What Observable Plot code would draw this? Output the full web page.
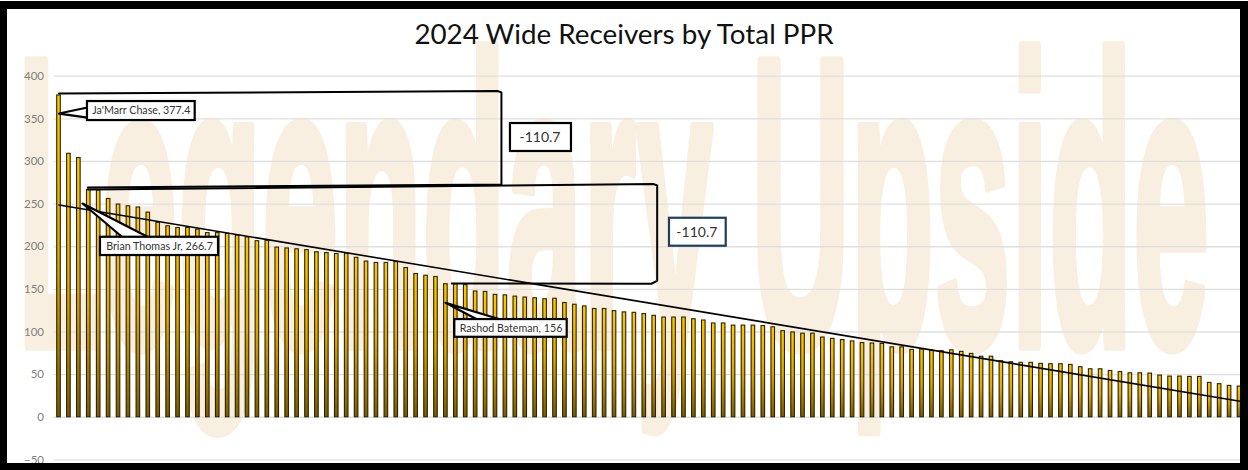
<!DOCTYPE html>
<html>
<head>
<meta charset="utf-8">
<script src="https://cdn.jsdelivr.net/npm/d3@7"></script>
<script src="https://cdn.jsdelivr.net/npm/@observablehq/plot@0.6"></script>
<style>
html,body{margin:0;padding:0;background:#fff;width:1248px;height:470px;overflow:hidden}
#wrap{position:relative;width:1248px;height:470px;overflow:hidden}
#title{position:absolute;left:0;right:0;top:17px;text-align:center;font:27.8px Lato,"Open Sans",sans-serif;color:#111;z-index:2}
#border{position:absolute;left:0;top:1px;width:1248px;height:469px;box-sizing:border-box;border-style:solid;border-color:#000;border-width:8px 8.5px 7px 7px;z-index:3;pointer-events:none}
svg{display:block}
</style>
</head>
<body>
<div id="wrap"><div id="title">2024 Wide Receivers by Total PPR</div><div id="border"></div></div>
<script>
const chartTitle = "2024 Wide Receivers by Total PPR";
const watermark = "Legendary Upside";
const yTicks = [-50, 0, 50, 100, 150, 200, 250, 300, 350, 400];
const ppr = [377.4,309,304,266.7,266,256,249.5,247.5,246,240,228,224,222,222,220,216,216,215,213,211,206.5,207,199,198,197,196,193.5,192.5,191.5,192,187,182.6,181,181,182,175,168,166,164.5,156,156,155,147.5,147,143.5,143,141.5,140.4,139.6,138.4,139,134,132,130,127,127,124.5,123,122.5,121,119,117,117,117,115,113.5,110,110,107.5,107.5,107.5,107,105.5,101,99.5,98,98,93.5,92,90.5,89,87,86.5,86,82,82,79,79.5,78,77.5,78.5,76.7,74.3,71,71,65.7,64.5,63.8,63.8,62.6,62.2,62.2,61.4,58.7,56.3,56.3,54.3,53,51.6,51.6,51.2,48.9,47.7,47.7,47.3,47.3,40.3,38.8,36.8,36];
const ranks = ppr.map((_, i) => i + 1);
const trendRank = [1, 120.2];
const trendPpr = [249, 18.4];
const bracket1 = [[1,379.7],[45.2,382.6],[45.6,381],[45.6,273],[3.9,269.4]];
const bracket2 = [[3.92,267],[60.9,273.5],[61.3,272],[61.3,160],[60.7,156.6],[40.6,156.8]];
const callouts = [
  {label:"Ja'Marr Chase, 377.4", x1:3.87, x2:14.73, y1:348, y2:370.3, wedge:[[3.87,363.3],[1,356.2],[3.87,351.5]]},
  {label:"Brian Thomas Jr, 266.7", x1:5.18, x2:17.08, y1:189.7, y2:211.1, wedge:[[7.4,211.1],[3.37,250.7],[10.02,211.1]]},
  {label:"Rashod Bateman, 156", x1:40.9, x2:52.23, y1:93.8, y2:114.6, wedge:[[43.16,114.6],[39.96,134.2],[45.5,114.6]]}
];
const gapBoxes = [
  {label:"-110.7", x1:46.51, x2:52.66, y1:311.7, y2:344.5, stroke:"#000000"},
  {label:"-110.7", x1:62.54, x2:68.26, y1:200.6, y2:233.4, stroke:"#1f3f5f"}
];

const gradient = () => {
  const ns = "http://www.w3.org/2000/svg";
  const defs = document.createElementNS(ns, "defs");
  defs.innerHTML = '<linearGradient id="gold" x1="0" y1="0" x2="0" y2="1"><stop offset="0" stop-color="#ffc800"/><stop offset="0.5" stop-color="#e0a800"/><stop offset="1" stop-color="#7a5c00"/></linearGradient>';
  return defs;
};

const plot = Plot.plot({
  width: 1248, height: 470,
  marginLeft: 53.54, marginRight: 4.06, marginTop: 75.7, marginBottom: 10.6,
  x: {domain: [0.5, 120.5], axis: null},
  y: {domain: [-50, 400], axis: null},
  style: {background: "transparent", overflow: "visible"},
  marks: [
    gradient,
    Plot.text([watermark], {x: [-3.2], y: [84.5], text: d => d, className: "wm", textAnchor: "start", lineAnchor: "bottom", fontSize: 412, fontWeight: 700, fontFamily: "Liberation Sans", fill: "#f9efe0", stroke: "#f9efe0", strokeWidth: 11}),
    Plot.gridY(yTicks, {stroke: "#e0e0e0", strokeOpacity: 1, strokeWidth: 1.3}),
    Plot.axisY({ticks: yTicks, tickSize: 0, tickPadding: 10, label: null, fontSize: 11.5, fontFamily: "Lato", color: "#7f7f7f"}),
    Plot.rectY(ranks, {x1: d => d - 0.18, x2: d => d + 0.18, y1: 0, y2: d => ppr[d - 1], fill: "url(#gold)", stroke: "#2a2200", strokeWidth: 1.1}),
    Plot.line(trendRank.map((r, i) => [r, trendPpr[i]]), {x: "0", y: "1", stroke: "#000", strokeWidth: 1.6}),
    Plot.line(bracket1, {x: "0", y: "1", stroke: "#000", strokeWidth: 2, strokeLinejoin: "round"}),
    Plot.line(bracket2, {x: "0", y: "1", stroke: "#000", strokeWidth: 2, strokeLinejoin: "round"}),
    ...callouts.flatMap(c => [
      Plot.line(c.wedge, {x: "0", y: "1", stroke: "#000", strokeWidth: 2.2, fill: "#fff"}),
      Plot.rect([c], {x1: "x1", x2: "x2", y1: "y1", y2: "y2", fill: "#fff", stroke: "#000", strokeWidth: 2.2}),
      Plot.text([c], {x: d => (d.x1 + d.x2) / 2, y: d => (d.y1 + d.y2) / 2, text: "label", fontSize: 10.7, fontFamily: "Lato", fill: "#333"})
    ]),
    ...gapBoxes.flatMap(b => [
      Plot.rect([b], {x1: "x1", x2: "x2", y1: "y1", y2: "y2", fill: "#fff", stroke: "stroke", strokeWidth: 2.2}),
      Plot.text([b], {x: d => (d.x1 + d.x2) / 2 - 0.1, y: d => (d.y1 + d.y2) / 2, text: "label", fontSize: 14, fontFamily: "Lato", fill: "#333"})
    ])
  ]
});
const wm = plot.querySelector("g.wm text");
if (wm) { wm.setAttribute("textLength", 1192); wm.setAttribute("lengthAdjust", "spacingAndGlyphs"); }
document.getElementById("wrap").prepend(plot);
</script>
</body>
</html>
